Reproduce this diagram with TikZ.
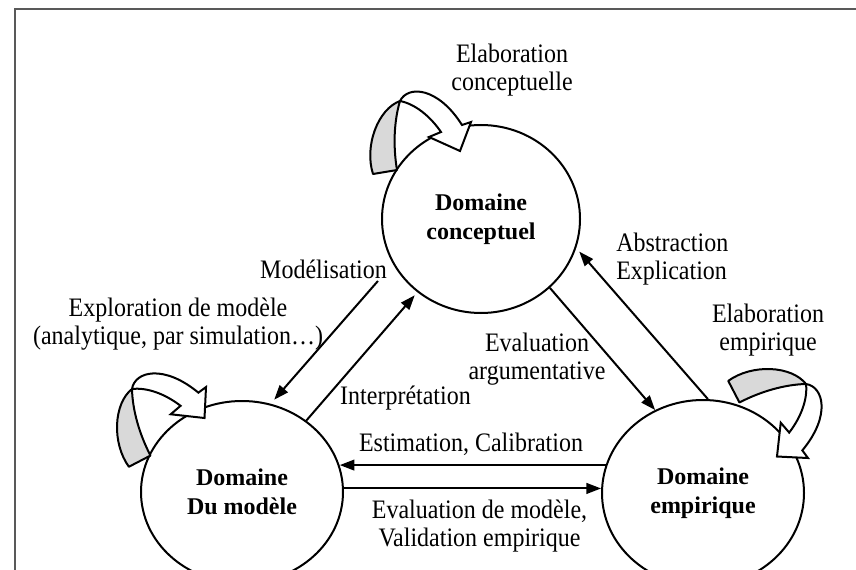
\documentclass[tikz,border=0pt]{standalone}
\usepackage{fontspec}
\setmainfont{Liberation Serif}
\newfontfamily\tallserif{Liberation Serif}[FakeStretch=0.9]
\usetikzlibrary{arrows.meta,shapes.geometric}
\begin{document}
\begin{tikzpicture}[x=0.75pt,y=-0.75pt,
  realm/.style={draw, ellipse, line width=1.5pt, inner sep=0pt, align=center,
    font=\fontsize{18}{21.75}\selectfont\bfseries},
  flow/.style={line width=1.5pt, -{Triangle[length=11pt,width=8pt]}},
  lbl/.style={align=center, font=\tallserif\fontsize{20}{21}\selectfont, inner sep=0pt},
  pics/bandloop/.style={code={
    % shaded underside of the ribbon
    \draw[line width=1.5pt, fill=black!15, line join=round]
      (-27,73) .. controls (-36,45) and (-22,8) .. (0,0)
      .. controls (-6,20) and (-7,45) .. (-3,69) -- cycle;
    % upper side of the ribbon with its head
    \draw[line width=1.5pt, fill=white]
      (0,0) .. controls (8,-16) and (38,-14) .. (62,24)
      -- (71,21) -- (60,50) -- (29,36) -- (41,31)
      .. controls (30,15) and (15,3) .. (0,0) -- cycle;
  }}]
\useasboundingbox (0,0) rectangle (856,570);
\clip (0,0) rectangle (856,570);

% frame
\draw[black!65, line width=1.5pt] (15,575) -- (15,9) -- (860,9);

% domains
\node[realm, minimum width=148.5pt, minimum height=141pt] (concept) at (481,219) {Domaine\\conceptuel};
\node[realm, minimum width=151.5pt, minimum height=136.5pt] (model) at (242,492) {Domaine\\Du modèle};
\node[realm, minimum width=151.5pt, minimum height=139.5pt] (empir) at (703,493) {Domaine\\empirique};

% self loops
\pic (loopC) at (400,101) {bandloop};
\pic (loopM) [rotate=18] at (132,389) {bandloop};
\pic (loopE) [rotate=-72] at (806,384) {bandloop};

% transitions
\draw[flow] (empir.164) -- (model.15 |- empir.164);
\draw[flow] (model.2) -- (empir.178 |- model.2);
\draw[flow, shorten <=17pt, shorten >=4pt] (concept.207) -- (model.72);
\draw[flow, shorten >=3pt] (model.48) -- (concept.229);
\draw[flow] (concept.315) -- (empir.120);
\draw[flow, shorten >=3.5pt] (empir.87) -- (concept.343);

% labels
\node[lbl] (tElabC) at (512,70) {Elaboration\\conceptuelle};
\node[lbl, anchor=base] (tModel) at (323.5,278) {Modélisation};
\node[lbl] (tExpl) at (178,324) {Exploration de modèle\\(analytique, par simulation…)};
\node[lbl, anchor=base] (tInterp) at (405.5,404) {Interprétation};
\node[lbl, align=left, anchor=west] (tAbstr) at (616,259) {Abstraction\\Explication};
\node[lbl] (tElabE) at (768,330) {Elaboration\\empirique};
\node[lbl] (tEvalA) at (537,359) {Evaluation\\argumentative};
\node[lbl, anchor=base] (tEstim) at (471,451) {Estimation, Calibration};
\node[lbl] (tEvalM) at (479.5,526) {Evaluation de modèle,\\Validation empirique};
\end{tikzpicture}
\end{document}
